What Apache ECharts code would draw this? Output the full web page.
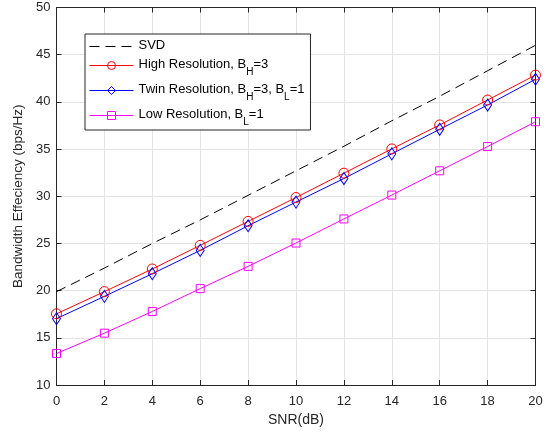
<!DOCTYPE html>
<html>
<head>
<meta charset="utf-8">
<script src="https://cdn.jsdelivr.net/npm/echarts@6/dist/echarts.min.js"></script>
<style>html,body{margin:0;padding:0;background:#fff;}#c{width:548px;height:432px;}</style>
</head>
<body>
<div id="c"></div>
<script>
var snr = [0, 2, 4, 6, 8, 10, 12, 14, 16, 18, 20];
var svd = [19.9, 22.4, 25.0, 27.5, 30.1, 32.7, 35.3, 38.0, 40.6, 43.3, 46.0];
var highRes = [17.55, 19.9, 22.3, 24.8, 27.34, 29.87, 32.45, 35.02, 37.56, 40.2, 42.84];
var twinRes = [17.04, 19.4, 21.8, 24.27, 26.88, 29.39, 31.88, 34.5, 37.1, 39.67, 42.4];
var lowRes = [13.35, 15.5, 17.8, 20.22, 22.58, 25.05, 27.6, 30.13, 32.7, 35.27, 37.9];
var names = ['SVD', 'High Resolution, BH=3', 'Twin Resolution, BH=3, BL=1', 'Low Resolution, BL=1'];
var colors = ['#000000', '#ff0000', '#0000ff', '#ff00ff'];
var richNames = {
  'SVD': '{n|SVD}',
  'High Resolution, BH=3': '{n|High Resolution, B}{s|H}{n|=3}',
  'Twin Resolution, BH=3, BL=1': '{n|Twin Resolution, B}{s|H}{n|=3, B}{s|L}{n|=1}',
  'Low Resolution, BL=1': '{n|Low Resolution, B}{s|L}{n|=1}'
};
function pairs(arr) { return snr.map(function (x, i) { return [x, arr[i]]; }); }
var font = 'Liberation Sans, Arial, Helvetica, sans-serif';
var axisColor = '#262626';
var chart = echarts.init(document.getElementById('c'), null, {renderer: 'canvas'});
chart.setOption({
  animation: false,
  backgroundColor: '#fff',
  grid: {left: 56.5, right: 12.5, top: 7.5, bottom: 46.5, containLabel: false},
  legend: {
    left: 85, top: 34, orient: 'vertical',
    data: [
      {name: names[0], itemStyle: {color: 'rgba(0,0,0,0)', borderWidth: 0}, lineStyle: {color: colors[0], width: 1, type: [10, 6]}},
      {name: names[1], itemStyle: {color: 'rgba(0,0,0,0)', borderColor: colors[1], borderWidth: 1}, lineStyle: {color: colors[1], width: 1}},
      {name: names[2], itemStyle: {color: 'rgba(0,0,0,0)', borderColor: colors[2], borderWidth: 1}, lineStyle: {color: colors[2], width: 1}},
      {name: names[3], itemStyle: {color: 'rgba(0,0,0,0)', borderColor: colors[3], borderWidth: 1}, lineStyle: {color: colors[3], width: 1}}
    ],
    itemWidth: 44, itemHeight: 10, itemGap: 6,
    padding: [5, 6, 3, 4],
    backgroundColor: '#fff', borderColor: axisColor, borderWidth: 1,
    formatter: function (n) { return richNames[n]; },
    textStyle: {
      fontFamily: font, color: '#000',
      rich: {
        n: {fontSize: 13, fontFamily: font, lineHeight: 15, verticalAlign: 'top', color: '#000'},
        s: {fontSize: 10, fontFamily: font, lineHeight: 12, verticalAlign: 'top', padding: [9, 0, 0, 0], color: '#000'}
      }
    }
  },
  xAxis: [{
    type: 'value', min: 0, max: 20, interval: 2,
    name: 'SNR(dB)', nameLocation: 'middle', nameGap: 27,
    nameTextStyle: {fontFamily: font, fontSize: 14, color: axisColor},
    axisLine: {show: true, onZero: false, lineStyle: {color: axisColor, width: 1}},
    axisTick: {show: true, inside: true, length: 5, lineStyle: {color: axisColor}},
    axisLabel: {fontFamily: font, fontSize: 13, color: axisColor, margin: 10},
    splitLine: {show: true, lineStyle: {color: '#e3e3e3', width: 1}}
  }, {
    type: 'value', min: 0, max: 20, interval: 2, position: 'top',
    axisLine: {show: true, onZero: false, lineStyle: {color: axisColor, width: 1}},
    axisTick: {show: true, inside: true, length: 5, lineStyle: {color: axisColor}},
    axisLabel: {show: false}, splitLine: {show: false}
  }],
  yAxis: [{
    type: 'value', min: 10, max: 50, interval: 5,
    name: 'Bandwidth Effeciency (bps/Hz)', nameLocation: 'middle', nameGap: 29,
    nameTextStyle: {fontFamily: font, fontSize: 13.5, color: axisColor},
    axisLine: {show: true, onZero: false, lineStyle: {color: axisColor, width: 1}},
    axisTick: {show: true, inside: true, length: 5, lineStyle: {color: axisColor}},
    axisLabel: {fontFamily: font, fontSize: 13, color: axisColor, margin: 6},
    splitLine: {show: true, lineStyle: {color: '#e3e3e3', width: 1}}
  }, {
    type: 'value', min: 10, max: 50, interval: 5, position: 'right',
    axisLine: {show: true, onZero: false, lineStyle: {color: axisColor, width: 1}},
    axisTick: {show: true, inside: true, length: 5, lineStyle: {color: axisColor}},
    axisLabel: {show: false}, splitLine: {show: false}
  }],
  series: [{
    name: names[0], type: 'line', data: pairs(svd), symbol: 'none',
    lineStyle: {color: colors[0], width: 1, type: [10, 6]},
    itemStyle: {color: colors[0]}
  }, {
    name: names[1], type: 'line', data: pairs(highRes), symbol: 'circle', symbolSize: 10,
    lineStyle: {color: colors[1], width: 1},
    itemStyle: {color: 'rgba(0,0,0,0)', borderColor: colors[1], borderWidth: 1}
  }, {
    name: names[2], type: 'line', data: pairs(twinRes), symbol: 'diamond', symbolSize: [8, 12],
    lineStyle: {color: colors[2], width: 1},
    itemStyle: {color: 'rgba(0,0,0,0)', borderColor: colors[2], borderWidth: 1}
  }, {
    name: names[3], type: 'line', data: pairs(lowRes), symbol: 'rect', symbolSize: 8,
    lineStyle: {color: colors[3], width: 1},
    itemStyle: {color: 'rgba(0,0,0,0)', borderColor: colors[3], borderWidth: 1}
  }]
});
</script>
</body>
</html>
